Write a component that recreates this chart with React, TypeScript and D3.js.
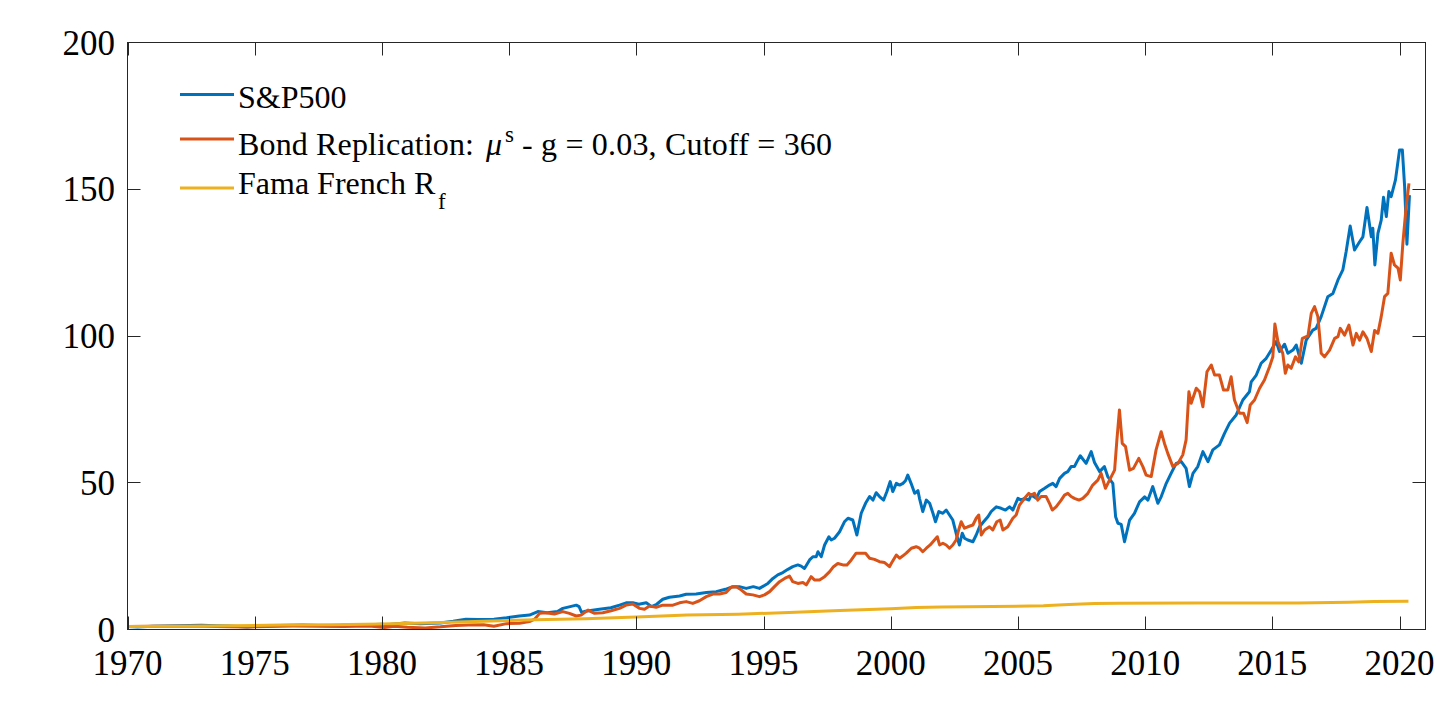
import { useEffect, useRef } from 'react';
import * as d3 from 'd3';

// [year, index value]
const SPX: [number, number][] = [
  [1970.0, 1.0], [1970.4, 0.85], [1971.0, 1.12], [1971.5, 1.2], [1972.0, 1.3], [1972.9, 1.45],
  [1973.5, 1.3], [1974.0, 1.2], [1974.7, 0.85], [1975.0, 1.0], [1975.5, 1.2], [1976.0, 1.4],
  [1976.9, 1.5], [1977.5, 1.4], [1978.1, 1.3], [1978.7, 1.55], [1979.5, 1.6], [1980.0, 1.8],
  [1980.2, 1.6], [1980.9, 2.2], [1981.5, 2.0], [1982.0, 2.1], [1982.3, 2.2], [1982.8, 2.8],
  [1983.3, 3.5], [1983.8, 3.4], [1984.4, 3.5], [1984.9, 4.0], [1985.4, 4.6], [1985.8, 4.9],
  [1986.13, 6.1], [1986.5, 5.7], [1986.9, 6.1], [1987.11, 7.2], [1987.4, 7.8], [1987.64, 8.3],
  [1987.75, 7.8], [1987.85, 5.8], [1988.0, 6.2], [1988.55, 6.9], [1989.0, 7.4], [1989.34, 8.3],
  [1989.6, 9.1], [1989.86, 9.1], [1990.1, 8.6], [1990.39, 9.1], [1990.6, 7.8], [1990.8, 8.6],
  [1991.04, 10.3], [1991.3, 11.0], [1991.7, 11.4], [1991.96, 12.0], [1992.35, 12.1], [1992.75, 12.6],
  [1993.14, 12.9], [1993.5, 13.7], [1993.79, 14.6], [1994.05, 14.6], [1994.32, 14.0], [1994.6, 14.6],
  [1994.84, 14.0], [1995.17, 15.7], [1995.37, 17.4], [1995.56, 18.6], [1995.76, 19.4], [1995.96, 20.5],
  [1996.15, 21.4], [1996.35, 22.0], [1996.48, 21.6], [1996.61, 20.8], [1996.81, 23.7], [1996.94, 24.8],
  [1997.07, 24.8], [1997.14, 26.5], [1997.27, 24.8], [1997.4, 28.8], [1997.57, 31.6], [1997.66, 30.5],
  [1997.79, 31.1], [1997.99, 33.3], [1998.18, 36.7], [1998.32, 37.9], [1998.51, 37.3], [1998.67, 32.2],
  [1998.84, 39.6], [1999.01, 43.0], [1999.17, 45.3], [1999.3, 44.1], [1999.43, 46.6], [1999.56, 45.3],
  [1999.72, 44.1], [1999.85, 47.0], [1999.98, 50.4], [2000.08, 47.0], [2000.22, 49.8], [2000.35, 49.2],
  [2000.48, 49.8], [2000.58, 50.7], [2000.67, 52.6], [2000.8, 49.8], [2000.94, 46.4], [2001.07, 47.3],
  [2001.13, 44.7], [2001.26, 40.2], [2001.4, 44.1], [2001.53, 43.0], [2001.66, 39.6], [2001.76, 36.7],
  [2001.89, 40.2], [2002.05, 39.6], [2002.18, 40.7], [2002.31, 39.0], [2002.44, 37.3], [2002.57, 32.8],
  [2002.7, 28.8], [2002.81, 32.8], [2002.9, 31.1], [2003.03, 30.5], [2003.23, 29.9], [2003.36, 32.2],
  [2003.49, 35.0], [2003.65, 36.7], [2003.82, 38.4], [2003.95, 40.2], [2004.15, 41.8], [2004.34, 41.3],
  [2004.51, 40.7], [2004.67, 41.8], [2004.8, 40.7], [2005.0, 44.7], [2005.13, 44.1], [2005.26, 44.7],
  [2005.43, 44.1], [2005.52, 45.8], [2005.72, 44.7], [2005.85, 47.0], [2006.05, 48.1], [2006.24, 49.2],
  [2006.37, 49.8], [2006.5, 48.7], [2006.64, 51.5], [2006.83, 53.2], [2006.96, 53.8], [2007.09, 55.5],
  [2007.22, 55.5], [2007.32, 57.2], [2007.45, 59.2], [2007.68, 56.6], [2007.88, 60.6], [2008.01, 56.9],
  [2008.21, 53.8], [2008.4, 55.5], [2008.53, 52.1], [2008.73, 49.8], [2008.84, 38.4], [2008.93, 36.2],
  [2009.06, 35.8], [2009.19, 29.9], [2009.39, 37.3], [2009.58, 39.6], [2009.78, 43.5], [2009.98, 45.2],
  [2010.11, 44.1], [2010.3, 48.7], [2010.5, 43.0], [2010.63, 45.2], [2010.83, 49.8], [2011.02, 53.2],
  [2011.22, 56.6], [2011.42, 57.2], [2011.61, 54.9], [2011.74, 48.7], [2011.88, 53.2], [2012.07, 55.5],
  [2012.27, 60.6], [2012.47, 57.2], [2012.66, 61.2], [2012.92, 62.9], [2013.12, 66.8], [2013.32, 70.3],
  [2013.58, 73.1], [2013.84, 78.2], [2014.1, 81.0], [2014.17, 84.4], [2014.37, 86.7], [2014.56, 90.7],
  [2014.76, 92.4], [2014.96, 95.2], [2015.15, 98.1], [2015.28, 94.7], [2015.48, 97.2], [2015.61, 94.1],
  [2015.81, 95.2], [2015.94, 96.9], [2016.14, 90.7], [2016.33, 98.6], [2016.59, 102.0], [2016.72, 102.6],
  [2016.92, 106.6], [2017.18, 113.4], [2017.38, 114.5], [2017.58, 119.1], [2017.77, 122.5], [2017.9, 128.7],
  [2018.06, 137.5], [2018.23, 129.3], [2018.43, 132.1], [2018.56, 133.8], [2018.72, 143.8], [2018.89, 133.8],
  [2018.95, 136.7], [2019.03, 124.2], [2019.15, 135.0], [2019.28, 139.5], [2019.37, 147.3], [2019.48, 140.7],
  [2019.58, 149.2], [2019.67, 147.5], [2019.84, 153.2], [2020.0, 163.4], [2020.11, 163.4], [2020.2, 150.9],
  [2020.29, 131.3], [2020.39, 148.0],
];

const BOND: [number, number][] = [
  [1970.0, 1.0], [1971.0, 1.1], [1972.0, 1.15], [1973.0, 1.1], [1974.0, 0.95], [1974.7, 0.85],
  [1975.5, 1.0], [1976.5, 1.15], [1977.5, 1.15], [1978.5, 1.05], [1979.5, 1.15], [1980.1, 0.7],
  [1980.5, 1.1], [1981.0, 0.8], [1981.7, 0.55], [1982.3, 0.9], [1982.9, 1.4], [1983.4, 1.5],
  [1984.0, 1.6], [1984.4, 1.1], [1984.9, 2.0], [1985.41, 2.1], [1985.8, 2.7], [1986.0, 3.5],
  [1986.2, 5.5], [1986.45, 5.7], [1986.78, 5.3], [1987.11, 6.1], [1987.37, 5.5], [1987.64, 4.6],
  [1987.83, 4.9], [1988.1, 6.6], [1988.36, 5.5], [1988.68, 5.7], [1989.01, 6.4], [1989.34, 7.2],
  [1989.6, 8.3], [1989.86, 8.7], [1990.13, 7.2], [1990.32, 6.9], [1990.52, 8.0], [1990.78, 7.6],
  [1991.04, 8.3], [1991.44, 8.3], [1991.7, 9.1], [1991.96, 9.5], [1992.22, 8.9], [1992.48, 9.8],
  [1992.75, 11.2], [1993.01, 12.1], [1993.27, 12.1], [1993.53, 12.6], [1993.73, 14.4], [1993.93, 14.6],
  [1994.12, 13.5], [1994.32, 12.1], [1994.58, 11.8], [1994.84, 11.2], [1995.04, 11.8], [1995.24, 12.9],
  [1995.43, 14.6], [1995.63, 16.3], [1995.83, 17.4], [1996.02, 18.2], [1996.15, 16.3], [1996.35, 15.7],
  [1996.55, 16.0], [1996.68, 15.2], [1996.87, 18.0], [1997.0, 16.9], [1997.2, 16.9], [1997.4, 18.0],
  [1997.6, 19.7], [1997.75, 21.4], [1997.92, 22.5], [1998.12, 22.0], [1998.28, 22.0], [1998.45, 23.7],
  [1998.64, 26.0], [1998.84, 26.0], [1999.01, 26.0], [1999.17, 24.3], [1999.36, 23.9], [1999.56, 23.1],
  [1999.76, 22.8], [1999.95, 21.4], [2000.02, 22.5], [2000.22, 25.4], [2000.35, 24.3], [2000.48, 25.1],
  [2000.61, 26.0], [2000.81, 27.7], [2001.0, 28.2], [2001.13, 27.7], [2001.26, 26.5], [2001.4, 27.7],
  [2001.55, 28.8], [2001.72, 30.5], [2001.83, 31.6], [2001.92, 28.8], [2002.05, 29.4], [2002.18, 28.8],
  [2002.31, 27.7], [2002.44, 28.8], [2002.57, 30.5], [2002.67, 33.9], [2002.77, 36.7], [2002.9, 34.5],
  [2003.03, 35.0], [2003.23, 35.6], [2003.36, 37.9], [2003.46, 39.0], [2003.56, 32.2], [2003.69, 33.9],
  [2003.88, 35.0], [2004.01, 33.9], [2004.17, 36.7], [2004.3, 37.3], [2004.41, 33.9], [2004.6, 35.0],
  [2004.8, 37.9], [2004.93, 39.0], [2005.06, 42.4], [2005.26, 44.7], [2005.43, 46.4], [2005.52, 45.8],
  [2005.65, 46.4], [2005.78, 44.1], [2005.91, 45.3], [2006.11, 45.3], [2006.24, 43.0], [2006.35, 40.7],
  [2006.5, 41.8], [2006.7, 44.1], [2006.83, 45.8], [2006.96, 46.4], [2007.09, 45.3], [2007.22, 44.7],
  [2007.4, 44.1], [2007.55, 44.7], [2007.75, 46.4], [2007.94, 49.2], [2008.14, 50.9], [2008.27, 53.2],
  [2008.44, 48.1], [2008.6, 50.9], [2008.8, 54.3], [2008.89, 64.6], [2008.99, 74.8], [2009.1, 63.4],
  [2009.23, 62.3], [2009.39, 54.3], [2009.54, 54.9], [2009.75, 58.3], [2009.91, 55.5], [2010.04, 52.6],
  [2010.24, 52.1], [2010.43, 61.2], [2010.63, 67.4], [2010.76, 63.4], [2010.89, 60.0], [2011.09, 55.5],
  [2011.29, 56.6], [2011.48, 59.5], [2011.61, 64.6], [2011.72, 81.0], [2011.81, 77.1], [2012.01, 82.2],
  [2012.14, 81.0], [2012.27, 75.9], [2012.43, 87.8], [2012.6, 90.1], [2012.73, 86.7], [2012.92, 86.7],
  [2013.08, 81.6], [2013.25, 81.6], [2013.38, 86.1], [2013.51, 78.2], [2013.71, 73.7], [2013.87, 73.7],
  [2014.01, 70.5], [2014.13, 76.5], [2014.3, 78.2], [2014.5, 82.2], [2014.69, 85.0], [2014.89, 89.5],
  [2015.02, 92.9], [2015.1, 104.1], [2015.22, 98.1], [2015.41, 94.1], [2015.51, 87.3], [2015.61, 90.1],
  [2015.74, 89.0], [2015.91, 92.9], [2016.04, 91.2], [2016.18, 99.2], [2016.4, 100.0], [2016.53, 107.7],
  [2016.66, 110.0], [2016.79, 106.6], [2016.92, 94.1], [2017.05, 92.9], [2017.25, 95.2], [2017.45, 99.2],
  [2017.58, 99.8], [2017.67, 102.6], [2017.84, 100.3], [2018.01, 103.7], [2018.17, 96.9], [2018.3, 100.9],
  [2018.43, 98.6], [2018.56, 101.4], [2018.72, 99.2], [2018.89, 94.7], [2019.02, 101.9], [2019.15, 100.9],
  [2019.28, 106.6], [2019.41, 113.4], [2019.54, 114.5], [2019.67, 128.2], [2019.8, 124.2], [2019.94, 123.1],
  [2020.03, 119.1], [2020.13, 131.6], [2020.26, 144.1], [2020.37, 152.0],
];

const RF: [number, number][] = [
  [1970.0, 1.0], [1972.0, 1.1], [1974.0, 1.3], [1976.0, 1.5], [1978.0, 1.65], [1980.0, 1.85],
  [1982.0, 2.3], [1984.0, 2.85], [1986.0, 3.3], [1988.0, 3.7], [1990.0, 4.3], [1992.0, 4.9],
  [1994.0, 5.2], [1996.0, 5.8], [1998.0, 6.5], [2000.0, 7.1], [2001.0, 7.5], [2002.0, 7.65],
  [2004.0, 7.8], [2006.0, 8.1], [2007.0, 8.5], [2008.0, 8.85], [2009.0, 8.95], [2012.0, 9.0],
  [2016.0, 9.05], [2018.0, 9.25], [2019.0, 9.5], [2020.35, 9.6],
];

const X_TICKS = [1970, 1975, 1980, 1985, 1990, 1995, 2000, 2005, 2010, 2015, 2020];
const Y_TICKS = [0, 50, 100, 150, 200];

const SERIES = [
  { name: 'spx', data: SPX, color: '#0072BD' },
  { name: 'bond', data: BOND, color: '#D95319' },
  { name: 'rf', data: RF, color: '#EDB120' },
];

const W = 1456;
const H = 716;
const PLOT = { left: 127.5, right: 1425.5, top: 42.5, bottom: 629.5 };
const FONT = '"Liberation Serif", "Times New Roman", Times, serif';
const AXIS_COLOR = '#262626';
const TICK_LEN = 13;
const LEGEND_FONT = 32;
const SCRIPT_FONT = 23;

export default function App() {
  const svgRef = useRef<SVGSVGElement>(null);

  useEffect(() => {
    if (!svgRef.current) return;
    const svg = d3.select(svgRef.current);
    svg.selectAll('*').remove();

    const x = d3
      .scaleLinear()
      .domain([1970, 2021.02])
      .range([PLOT.left, PLOT.right]);
    const y = d3.scaleLinear().domain([0, 200]).range([PLOT.bottom, PLOT.top]);

    const line = d3
      .line<[number, number]>()
      .x(d => x(d[0]))
      .y(d => y(d[1]));

    // series
    SERIES.forEach(s => {
      svg
        .append('path')
        .datum(s.data)
        .attr('d', line)
        .attr('fill', 'none')
        .attr('stroke', s.color)
        .attr('stroke-width', 3)
        .attr('stroke-linejoin', 'round');
    });

    // box
    svg
      .append('rect')
      .attr('x', PLOT.left)
      .attr('y', PLOT.top)
      .attr('width', PLOT.right - PLOT.left)
      .attr('height', PLOT.bottom - PLOT.top)
      .attr('fill', 'none')
      .attr('stroke', AXIS_COLOR)
      .attr('stroke-width', 1);

    // ticks, inward on all four sides
    const ticks = svg.append('g').attr('stroke', AXIS_COLOR).attr('stroke-width', 1);
    X_TICKS.forEach(t => {
      const px = Math.round(x(t)) + 0.5;
      ticks.append('line').attr('x1', px).attr('x2', px).attr('y1', PLOT.bottom).attr('y2', PLOT.bottom - TICK_LEN);
      ticks.append('line').attr('x1', px).attr('x2', px).attr('y1', PLOT.top).attr('y2', PLOT.top + TICK_LEN);
    });
    Y_TICKS.forEach(v => {
      const py = Math.round(y(v) - 0.5) + 0.5;
      ticks.append('line').attr('x1', PLOT.left).attr('x2', PLOT.left + TICK_LEN).attr('y1', py).attr('y2', py);
      ticks.append('line').attr('x1', PLOT.right).attr('x2', PLOT.right - TICK_LEN).attr('y1', py).attr('y2', py);
    });

    // tick labels
    svg
      .append('g')
      .selectAll('text')
      .data(X_TICKS)
      .enter()
      .append('text')
      .attr('x', d => x(d))
      .attr('y', 675)
      .attr('text-anchor', 'middle')
      .attr('font-family', FONT)
      .attr('font-size', 35)
      .attr('fill', '#000')
      .text(d => d);

    svg
      .append('g')
      .selectAll('text')
      .data(Y_TICKS)
      .enter()
      .append('text')
      .attr('x', 115)
      .attr('y', d => y(d) + 12)
      .attr('text-anchor', 'end')
      .attr('font-family', FONT)
      .attr('font-size', 35)
      .attr('fill', '#000')
      .text(d => d);

    // legend
    const legend = svg
      .append('g')
      .attr('font-family', FONT)
      .attr('font-size', LEGEND_FONT)
      .attr('fill', '#000');
    const rows = [
      { color: SERIES[0].color, lineY: 94.5 },
      { color: SERIES[1].color, lineY: 139 },
      { color: SERIES[2].color, lineY: 188 },
    ];
    rows.forEach(r => {
      legend
        .append('line')
        .attr('x1', 180)
        .attr('x2', 234)
        .attr('y1', r.lineY)
        .attr('y2', r.lineY)
        .attr('stroke', r.color)
        .attr('stroke-width', 3);
    });

    legend.append('text').attr('x', 238).attr('y', 108).text('S&P500');

    // TeX-like label, stretched a little to the reference's Times metrics
    legend
      .append('text')
      .attr('x', 238)
      .attr('y', 155)
      .attr('textLength', 236)
      .attr('lengthAdjust', 'spacing')
      .text('Bond Replication:');
    legend.append('text').attr('x', 486).attr('y', 155).attr('font-style', 'italic').text('μ');
    legend.append('text').attr('x', 505).attr('y', 141.5).attr('font-size', SCRIPT_FONT).text('s');
    legend
      .append('text')
      .attr('x', 522)
      .attr('y', 155)
      .attr('textLength', 310)
      .attr('lengthAdjust', 'spacing')
      .text('- g = 0.03, Cutoff = 360');

    legend.append('text').attr('x', 238).attr('y', 194).text('Fama French R');
    legend.append('text').attr('x', 438).attr('y', 209).attr('font-size', SCRIPT_FONT).text('f');
  }, []);

  return (
    <div style={{ position: 'absolute', left: 0, top: 0, width: W, height: H, background: '#fff' }}>
      <svg ref={svgRef} width={W} height={H} style={{ display: 'block' }} />
    </div>
  );
}
